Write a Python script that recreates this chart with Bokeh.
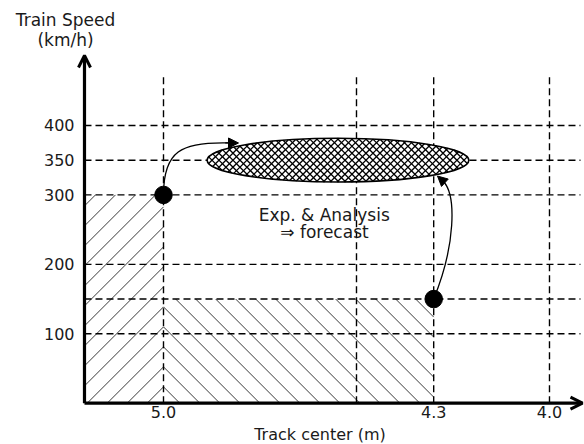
from bokeh.plotting import figure
from bokeh.models import Range1d, Arrow, OpenHead, NormalHead
from bokeh.embed import file_html
from bokeh.resources import INLINE
from bokeh.core.properties import value

# ---------------- data ----------------
x_tick_values = [5.0, 4.3, 4.0]
x_tick_labels = ["5.0", "4.3", "4.0"]
x_grid_values = [5.0, 4.5, 4.3, 4.0]
y_tick_values = [100, 200, 300, 350, 400]
y_tick_labels = ["100", "200", "300", "350", "400"]
y_grid_values = [100, 150, 200, 300, 350, 400]

points_x = [5.0, 4.3]          # track center (m)
points_y = [300, 150]          # train speed (km/h)

zone_a = {"right": 5.0, "top": 300}               # "/" hatched area
zone_b = {"left": 5.0, "right": 4.3, "top": 150}  # "\" hatched area

target_x = 4.548     # forecast ellipse centre
target_y = 350
target_w = 0.678
target_h = 63

# ---------------- layout (data-space anchors) ----------------
W, H = 584, 444
x_lo, x_hi = 5.4223, 3.9093
y_lo, y_hi = -59.5, 580.0
x_origin = 5.2047          # where the speed axis stands
x_axis_end = 3.9145
y_axis_top = 500.8
grid_top = 472
grid_right = 3.9197
HATCH_STEP = 20.0          # px between hatch lines
HATCH_PHASE = 16.3         # px offset of hatch lines from the 5.0 line
CROSS_STEP = 7.0           # px between cross-hatch lines in the ellipse

FONT = value("DejaVu Sans")
INK = "#1a1a1a"

p = figure(width=W, height=H, output_backend="svg", toolbar_location=None,
           x_range=Range1d(x_lo, x_hi), y_range=Range1d(y_lo, y_hi),
           x_axis_location=None, y_axis_location=None, min_border=0)
p.outline_line_color = None
p.grid.visible = False
p.background_fill_color = "white"
p.border_fill_color = "white"

# ---- screen <-> data helpers ----
px_x = W / (x_lo - x_hi)
px_y = H / (y_hi - y_lo)
sx = lambda v: (x_lo - v) * px_x
sy = lambda v: (y_hi - v) * px_y
dx = lambda X: x_lo - X / px_x
dy = lambda Y: y_hi - Y / px_y


def hatch(left, right, bottom, top, rising, anchor):
    L, R, T, B = sx(left), sx(right), sy(top), sy(bottom)
    span = B - T
    xs0, ys0, xs1, ys1 = [], [], [], []
    for n in range(-40, 41):
        c = anchor + n * HATCH_STEP
        if rising:      # "/" : Y = B - (X - c)
            a, b = max(L, c), min(R, c + span)
            if b <= a:
                continue
            ya, yb = B - (a - c), B - (b - c)
        else:           # "\" : Y = B - (c - X)
            a, b = max(L, c - span), min(R, c)
            if b <= a:
                continue
            ya, yb = B - (c - a), B - (c - b)
        xs0.append(dx(a)); ys0.append(dy(ya)); xs1.append(dx(b)); ys1.append(dy(yb))
    p.segment(x0=xs0, y0=ys0, x1=xs1, y1=ys1, line_color="#3a3a3a", line_width=1.0)


def cross_hatch(cxd, cyd, wd, hd, step):
    cx, cy = sx(cxd), sy(cyd)
    a, b = wd * px_x / 2, hd * px_y / 2
    A = 1 / a ** 2 + 1 / b ** 2
    xs0, ys0, xs1, ys1 = [], [], [], []
    for sgn in (1, -1):
        for k in range(-80, 81):
            d = k * step
            Bq = 2 * sgn * d / b ** 2
            C = d * d / b ** 2 - 1
            disc = Bq * Bq - 4 * A * C
            if disc <= 0:
                continue
            r = disc ** 0.5
            u1, u2 = (-Bq - r) / (2 * A), (-Bq + r) / (2 * A)
            for_pts = [(cx + u, cy + sgn * u + d) for u in (u1, u2)]
            xs0.append(dx(for_pts[0][0])); ys0.append(dy(for_pts[0][1]))
            xs1.append(dx(for_pts[1][0])); ys1.append(dy(for_pts[1][1]))
    p.segment(x0=xs0, y0=ys0, x1=xs1, y1=ys1, line_color="black", line_width=1.3)


hatch(x_origin, zone_a["right"], 0, zone_a["top"], True,
      sx(zone_a["right"]) - HATCH_PHASE)
hatch(zone_b["left"], zone_b["right"], 0, zone_b["top"], False,
      sx(zone_b["left"]) + HATCH_PHASE)

# dashed grid lines
p.segment(x0=[x_origin] * len(y_grid_values), x1=[grid_right] * len(y_grid_values),
          y0=y_grid_values, y1=y_grid_values,
          line_color="black", line_width=1.4, line_dash="7 4")
p.segment(x0=x_grid_values, x1=x_grid_values,
          y0=[0] * len(x_grid_values), y1=[grid_top] * len(x_grid_values),
          line_color="black", line_width=1.4, line_dash="7 4")

# forecast ellipse
p.ellipse(x=[target_x], y=[target_y], width=[target_w], height=[target_h],
          fill_color="white", line_color=None)
cross_hatch(target_x, target_y, target_w, target_h, CROSS_STEP)
p.ellipse(x=[target_x], y=[target_y], width=[target_w], height=[target_h],
          fill_color=None, line_color="black", line_width=1.6)

# curved arrows from the points to the ellipse
curve1 = dict(x0=points_x[0], y0=points_y[0], cx0=5.0, cy0=363, cx1=4.956, cy1=377,
              x1=4.8264, y1=374.8)
curve2 = dict(x0=points_x[1], y0=points_y[1], cx0=4.2435, cy0=227, cx1=4.2409, cy1=299,
              x1=4.2746, y1=319.3)
for c in (curve1, curve2):
    p.bezier(x0=[c["x0"]], y0=[c["y0"]], x1=[c["x1"]], y1=[c["y1"]],
             cx0=[c["cx0"]], cy0=[c["cy0"]], cx1=[c["cx1"]], cy1=[c["cy1"]],
             line_color="black", line_width=1.3)

p.add_layout(Arrow(end=NormalHead(size=10, fill_color="black", line_color="black"),
                   x_start=4.84, y_start=374.8, x_end=4.8057, y_end=374.8,
                   line_color="black", line_width=1.3))
p.add_layout(Arrow(end=NormalHead(size=10, fill_color="black", line_color="black"),
                   x_start=4.2746, y_start=319.3, x_end=4.2902, y_end=327.2,
                   line_color="black", line_width=1.3))

# data points
p.scatter(x=points_x, y=points_y, size=17.5, color="black")

# axes with arrows
p.add_layout(Arrow(end=OpenHead(size=12, line_width=3, line_color="black"),
                   x_start=x_origin, y_start=0, x_end=x_origin, y_end=y_axis_top,
                   line_color="black", line_width=3.2))
p.add_layout(Arrow(end=OpenHead(size=12, line_width=3, line_color="black"),
                   x_start=x_origin, y_start=0, x_end=x_axis_end, y_end=0,
                   line_color="black", line_width=3.2))

# tick labels
y_label_x = 5.2306
x_label_y = -13.4
p.text(x=[y_label_x] * len(y_tick_values), y=y_tick_values, text=y_tick_labels,
       text_font=FONT, text_font_size=value("16px"), text_color=INK,
       text_align="right", text_baseline="middle")
p.text(x=x_tick_values, y=[x_label_y] * len(x_tick_values), text=x_tick_labels,
       text_font=FONT, text_font_size=value("16px"), text_color=INK,
       text_align="center", text_baseline="middle")

# other texts
def lab(x, y, t, size):
    p.text(x=[x], y=[y], text=[t], text_font=FONT, text_font_size=value(size),
           text_color=INK, text_align="center", text_baseline="middle")

lab(4.5837, 270.5, "Exp. & Analysis", "17px")
lab(4.5830, 246.8, "\u21d2 forecast", "17px")
lab(5.2539, 551.2, "Train Speed", "17px")
lab(5.2539, 523.8, "(km/h)", "17px")
lab(4.5946, -45.5, "Track center (m)", "16px")

open("out.html", "w").write(file_html(p, INLINE))
